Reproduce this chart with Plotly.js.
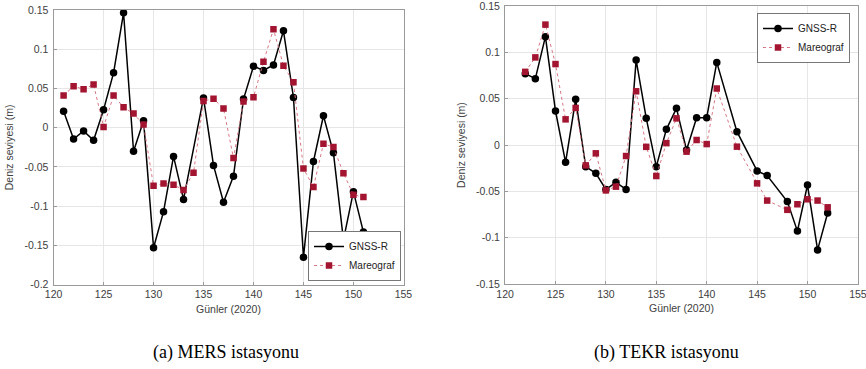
<!DOCTYPE html>
<html>
<head>
<meta charset="utf-8">
<script src="https://cdn.plot.ly/plotly-3.0.1.min.js"></script>
<style>html,body{margin:0;padding:0;background:#fff;}#chart{width:866px;height:369px;}</style>
</head>
<body>
<div id="chart"></div>
<script>
// ---- MERS station (a) ----
const mersGnssDays = [121,122,123,124,125,126,127,128,129,130,131,132,133,135,136,137,138,139,140,141,142,143,144,145,146,147,148,149,150,151];
const mersGnss     = [0.021,-0.0145,-0.004,-0.016,0.023,0.070,0.1465,-0.030,0.009,-0.153,-0.107,-0.0366,-0.0914,0.038,-0.048,-0.095,-0.0617,0.0365,0.0785,0.073,0.080,0.1236,0.0386,-0.165,-0.043,0.0153,-0.032,-0.143,-0.0815,-0.133];
const mersTideDays = [121,122,123,124,125,126,127,128,129,130,131,132,133,134,135,136,137,138,139,140,141,142,143,144,145,146,147,148,149,150,151];
const mersTide     = [0.041,0.053,0.049,0.055,0.001,0.041,0.026,0.018,0.004,-0.074,-0.071,-0.0726,-0.0795,-0.0573,0.034,0.037,0.0246,-0.0387,0.0335,0.039,0.084,0.1256,0.079,0.058,-0.052,-0.0757,-0.0204,-0.0247,-0.058,-0.0854,-0.0884];

// ---- TEKR station (b) ----
const tekrGnssDays = [122,123,124,125,126,127,128,129,130,131,132,133,134,135,136,137,138,139,140,141,143,145,146,148,149,150,151,152];
const tekrGnss     = [0.077,0.0716,0.117,0.0367,-0.0187,0.0493,-0.0234,-0.0306,-0.048,-0.0403,-0.048,0.0917,0.029,-0.0234,0.0169,0.0396,-0.0054,0.0295,0.0295,0.0892,0.0144,-0.028,-0.033,-0.061,-0.093,-0.0432,-0.1133,-0.0734];
const tekrTideDays = [122,123,124,125,126,127,128,129,130,131,132,133,134,135,136,137,138,139,140,141,143,145,146,148,149,150,151,152];
const tekrTide     = [0.079,0.0946,0.130,0.0874,0.0277,0.040,-0.022,-0.009,-0.049,-0.045,-0.0119,0.058,-0.002,-0.0335,0.002,0.0288,-0.0072,0.0054,0.001,0.061,-0.0018,-0.0414,-0.060,-0.070,-0.064,-0.0586,-0.060,-0.0673];

// ---- tick labels ----
const xTickVals = [120,125,130,135,140,145,150,155];
const xTickText = ['120','125','130','135','140','145','150','155'];
const yTickValsA = [-0.2,-0.15,-0.1,-0.05,0,0.05,0.1,0.15];
const yTickTextA = ['-0.2','-0.15','-0.1','-0.05','0','0.05','0.1','0.15'];
const yTickValsB = [-0.15,-0.1,-0.05,0,0.05,0.1,0.15];
const yTickTextB = ['-0.15','-0.1','-0.05','0','0.05','0.1','0.15'];

const seriesNames = ['GNSS-R','Mareograf'];
const xTitle = 'Günler (2020)';
const yTitle = 'Deniz seviyesi (m)';
const captions = ['(a) MERS istasyonu','(b) TEKR istasyonu'];

const RED = '#A2142F';
function gnssTrace(x,y,xa,ya,leg){
  return {x:x,y:y,xaxis:xa,yaxis:ya,legend:leg,name:seriesNames[0],type:'scatter',mode:'lines+markers',
    line:{color:'#000',width:1.5},marker:{symbol:'circle',size:7.5,color:'#000'}};
}
function tideTrace(x,y,xa,ya,leg){
  return {x:x,y:y,xaxis:xa,yaxis:ya,legend:leg,name:seriesNames[1],type:'scatter',mode:'lines+markers',
    line:{color:'#d97682',width:1,dash:'dot'},marker:{symbol:'square',size:6.5,color:RED}};
}
const data = [
  gnssTrace(mersGnssDays,mersGnss,'x','y','legend'),
  tideTrace(mersTideDays,mersTide,'x','y','legend'),
  gnssTrace(tekrGnssDays,tekrGnss,'x2','y2','legend2'),
  tideTrace(tekrTideDays,tekrTide,'x2','y2','legend2')
];

const tickFont = {family:'Liberation Sans, Arial, sans-serif',size:10.5,color:'#404040'};
function xaxis(domain, anchor){
  return {domain:domain,anchor:anchor,range:[119.99,155.01],tickmode:'array',tickvals:xTickVals,ticktext:xTickText,
    showgrid:true,gridcolor:'#e6e6e6',gridwidth:1,zeroline:false,showline:true,mirror:true,linecolor:'#9a9a9a',linewidth:1,
    ticks:'inside',ticklen:3,tickcolor:'#9a9a9a',tickfont:tickFont,ticklabeloverflow:'allow',
    title:{text:xTitle,font:{family:'Liberation Sans, Arial, sans-serif',size:10.5,color:'#404040'},standoff:6}};
}
function yaxis(domain, anchor, range, tv, tt){
  return {domain:domain,anchor:anchor,range:range,tickmode:'array',tickvals:tv,ticktext:tt,
    showgrid:true,gridcolor:'#e6e6e6',gridwidth:1,zeroline:false,showline:true,mirror:true,linecolor:'#9a9a9a',linewidth:1,
    ticks:'inside',ticklen:3,tickcolor:'#9a9a9a',tickfont:tickFont,ticklabelstandoff:2,ticklabeloverflow:'allow',
    title:{text:yTitle,font:{family:'Liberation Sans, Arial, sans-serif',size:10.5,color:'#404040'},standoff:8}};
}
const legFont = {family:'Liberation Sans, Arial, sans-serif',size:10,color:'#222'};
const layout = {
  width:866,height:369,margin:{l:0,r:0,t:0,b:0},paper_bgcolor:'#fff',plot_bgcolor:'#fff',
  xaxis:xaxis([53.5/866,403.5/866],'y'),
  yaxis:yaxis([1-284.7/369,1-10/369],'x',[-0.2001,0.1501],yTickValsA,yTickTextA),
  xaxis2:xaxis([505/866,858/866],'y2'),
  yaxis2:yaxis([1-284/369,1-6/369],'x2',[-0.1501,0.1501],yTickValsB,yTickTextB),
  legend:{x:401/866,y:1-281/369,xanchor:'right',yanchor:'bottom',bgcolor:'#fff',bordercolor:'#777',borderwidth:1,
    font:legFont,tracegroupgap:0,itemwidth:30},
  legend2:{x:850/866,y:1-13/369,xanchor:'right',yanchor:'top',bgcolor:'#fff',bordercolor:'#777',borderwidth:1,
    font:legFont,tracegroupgap:0,itemwidth:30},
  showlegend:true,
  annotations:[
    {text:captions[0],xref:'paper',yref:'paper',x:226/866,y:1-352/369,xanchor:'center',yanchor:'middle',showarrow:false,
     font:{family:'Liberation Serif, Times New Roman, serif',size:18,color:'#000'}},
    {text:captions[1],xref:'paper',yref:'paper',x:666/866,y:1-352/369,xanchor:'center',yanchor:'middle',showarrow:false,
     font:{family:'Liberation Serif, Times New Roman, serif',size:18,color:'#000'}}
  ]
};
Plotly.newPlot('chart',data,layout,{staticPlot:true,displayModeBar:false});
</script>
</body>
</html>
